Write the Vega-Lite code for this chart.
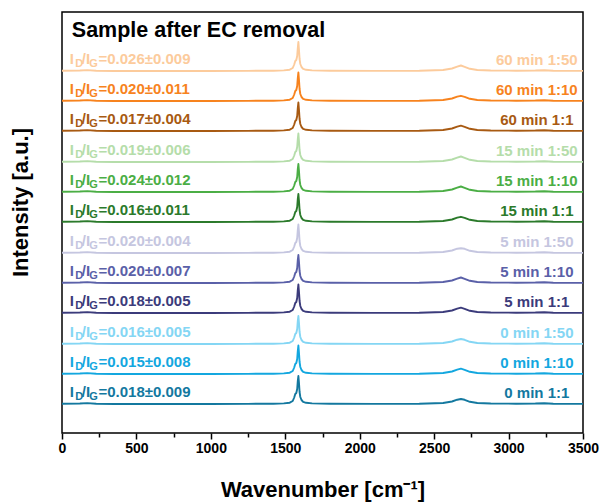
{
"$schema": "https://vega.github.io/schema/vega-lite/v6.json",
"width": 521, "height": 421,
"autosize": {"type": "none"},
"padding": {"left": 62, "top": 12, "right": 22, "bottom": 70},
"background": "white",
"config": {"view": {"stroke": "black", "strokeWidth": 1.5}, "font": "Liberation Sans"},
"datasets": {
"spec": [
{"s":"0 min 1:1","w":0,"i":29.3},{"s":"0 min 1:1","w":120,"i":29.5},{"s":"0 min 1:1","w":170,"i":29.9},{"s":"0 min 1:1","w":230,"i":29.3},{"s":"0 min 1:1","w":350,"i":29},{"s":"0 min 1:1","w":700,"i":29},{"s":"0 min 1:1","w":1000,"i":29},{"s":"0 min 1:1","w":1250,"i":29.1},{"s":"0 min 1:1","w":1350,"i":29.4},{"s":"0 min 1:1","w":1420,"i":29.3},{"s":"0 min 1:1","w":1490,"i":29.6},{"s":"0 min 1:1","w":1530,"i":30.3},{"s":"0 min 1:1","w":1550,"i":32},{"s":"0 min 1:1","w":1560,"i":35.5},{"s":"0 min 1:1","w":1567,"i":39},{"s":"0 min 1:1","w":1574,"i":40},{"s":"0 min 1:1","w":1580,"i":44},{"s":"0 min 1:1","w":1584,"i":52},{"s":"0 min 1:1","w":1588,"i":57},{"s":"0 min 1:1","w":1592,"i":50},{"s":"0 min 1:1","w":1596,"i":41},{"s":"0 min 1:1","w":1601,"i":36},{"s":"0 min 1:1","w":1609,"i":33},{"s":"0 min 1:1","w":1620,"i":31.2},{"s":"0 min 1:1","w":1640,"i":30.2},{"s":"0 min 1:1","w":1680,"i":29.6},{"s":"0 min 1:1","w":1800,"i":29.2},{"s":"0 min 1:1","w":2100,"i":29.1},{"s":"0 min 1:1","w":2400,"i":29.3},{"s":"0 min 1:1","w":2560,"i":30},{"s":"0 min 1:1","w":2620,"i":31.5},{"s":"0 min 1:1","w":2655,"i":33.3},{"s":"0 min 1:1","w":2680,"i":34},{"s":"0 min 1:1","w":2705,"i":33.2},{"s":"0 min 1:1","w":2740,"i":31.2},{"s":"0 min 1:1","w":2790,"i":30},{"s":"0 min 1:1","w":2880,"i":29.5},{"s":"0 min 1:1","w":3050,"i":29.3},{"s":"0 min 1:1","w":3180,"i":29.5},{"s":"0 min 1:1","w":3240,"i":29.8},{"s":"0 min 1:1","w":3300,"i":29.3},{"s":"0 min 1:1","w":3500,"i":29.1},
{"s":"0 min 1:10","w":0,"i":59.3},{"s":"0 min 1:10","w":120,"i":59.5},{"s":"0 min 1:10","w":170,"i":59.9},{"s":"0 min 1:10","w":230,"i":59.3},{"s":"0 min 1:10","w":350,"i":59},{"s":"0 min 1:10","w":700,"i":59},{"s":"0 min 1:10","w":1000,"i":59},{"s":"0 min 1:10","w":1250,"i":59.1},{"s":"0 min 1:10","w":1350,"i":59.4},{"s":"0 min 1:10","w":1420,"i":59.3},{"s":"0 min 1:10","w":1490,"i":59.6},{"s":"0 min 1:10","w":1530,"i":60.3},{"s":"0 min 1:10","w":1550,"i":62},{"s":"0 min 1:10","w":1560,"i":65.5},{"s":"0 min 1:10","w":1567,"i":69},{"s":"0 min 1:10","w":1574,"i":70},{"s":"0 min 1:10","w":1580,"i":74},{"s":"0 min 1:10","w":1584,"i":82},{"s":"0 min 1:10","w":1588,"i":87.5},{"s":"0 min 1:10","w":1592,"i":80},{"s":"0 min 1:10","w":1596,"i":71},{"s":"0 min 1:10","w":1601,"i":66},{"s":"0 min 1:10","w":1609,"i":63},{"s":"0 min 1:10","w":1620,"i":61.2},{"s":"0 min 1:10","w":1640,"i":60.2},{"s":"0 min 1:10","w":1680,"i":59.6},{"s":"0 min 1:10","w":1800,"i":59.2},{"s":"0 min 1:10","w":2100,"i":59.1},{"s":"0 min 1:10","w":2400,"i":59.3},{"s":"0 min 1:10","w":2560,"i":60},{"s":"0 min 1:10","w":2620,"i":61.5},{"s":"0 min 1:10","w":2655,"i":63.3},{"s":"0 min 1:10","w":2680,"i":64.3},{"s":"0 min 1:10","w":2705,"i":63.2},{"s":"0 min 1:10","w":2740,"i":61.2},{"s":"0 min 1:10","w":2790,"i":60},{"s":"0 min 1:10","w":2880,"i":59.5},{"s":"0 min 1:10","w":3050,"i":59.3},{"s":"0 min 1:10","w":3180,"i":59.5},{"s":"0 min 1:10","w":3240,"i":59.8},{"s":"0 min 1:10","w":3300,"i":59.3},{"s":"0 min 1:10","w":3500,"i":59.1},
{"s":"0 min 1:50","w":0,"i":89.3},{"s":"0 min 1:50","w":120,"i":89.5},{"s":"0 min 1:50","w":170,"i":89.9},{"s":"0 min 1:50","w":230,"i":89.3},{"s":"0 min 1:50","w":350,"i":89},{"s":"0 min 1:50","w":700,"i":89},{"s":"0 min 1:50","w":1000,"i":89},{"s":"0 min 1:50","w":1250,"i":89.1},{"s":"0 min 1:50","w":1350,"i":89.4},{"s":"0 min 1:50","w":1420,"i":89.3},{"s":"0 min 1:50","w":1490,"i":89.6},{"s":"0 min 1:50","w":1530,"i":90.3},{"s":"0 min 1:50","w":1550,"i":92},{"s":"0 min 1:50","w":1560,"i":95.5},{"s":"0 min 1:50","w":1567,"i":99},{"s":"0 min 1:50","w":1574,"i":100},{"s":"0 min 1:50","w":1580,"i":104},{"s":"0 min 1:50","w":1584,"i":112},{"s":"0 min 1:50","w":1588,"i":117},{"s":"0 min 1:50","w":1592,"i":110},{"s":"0 min 1:50","w":1596,"i":101},{"s":"0 min 1:50","w":1601,"i":96},{"s":"0 min 1:50","w":1609,"i":93},{"s":"0 min 1:50","w":1620,"i":91.2},{"s":"0 min 1:50","w":1640,"i":90.2},{"s":"0 min 1:50","w":1680,"i":89.6},{"s":"0 min 1:50","w":1800,"i":89.2},{"s":"0 min 1:50","w":2100,"i":89.1},{"s":"0 min 1:50","w":2400,"i":89.3},{"s":"0 min 1:50","w":2560,"i":90},{"s":"0 min 1:50","w":2620,"i":91.5},{"s":"0 min 1:50","w":2655,"i":93.3},{"s":"0 min 1:50","w":2680,"i":94},{"s":"0 min 1:50","w":2705,"i":93.2},{"s":"0 min 1:50","w":2740,"i":91.2},{"s":"0 min 1:50","w":2790,"i":90},{"s":"0 min 1:50","w":2880,"i":89.5},{"s":"0 min 1:50","w":3050,"i":89.3},{"s":"0 min 1:50","w":3180,"i":89.5},{"s":"0 min 1:50","w":3240,"i":89.8},{"s":"0 min 1:50","w":3300,"i":89.3},{"s":"0 min 1:50","w":3500,"i":89.1},
{"s":"5 min 1:1","w":0,"i":120.3},{"s":"5 min 1:1","w":120,"i":120.5},{"s":"5 min 1:1","w":170,"i":120.9},{"s":"5 min 1:1","w":230,"i":120.3},{"s":"5 min 1:1","w":350,"i":120},{"s":"5 min 1:1","w":700,"i":120},{"s":"5 min 1:1","w":1000,"i":120},{"s":"5 min 1:1","w":1250,"i":120.1},{"s":"5 min 1:1","w":1350,"i":120.4},{"s":"5 min 1:1","w":1420,"i":120.3},{"s":"5 min 1:1","w":1490,"i":120.6},{"s":"5 min 1:1","w":1530,"i":121.3},{"s":"5 min 1:1","w":1550,"i":123},{"s":"5 min 1:1","w":1560,"i":126.5},{"s":"5 min 1:1","w":1567,"i":130},{"s":"5 min 1:1","w":1574,"i":131},{"s":"5 min 1:1","w":1580,"i":135},{"s":"5 min 1:1","w":1584,"i":143},{"s":"5 min 1:1","w":1588,"i":148.5},{"s":"5 min 1:1","w":1592,"i":141},{"s":"5 min 1:1","w":1596,"i":132},{"s":"5 min 1:1","w":1601,"i":127},{"s":"5 min 1:1","w":1609,"i":124},{"s":"5 min 1:1","w":1620,"i":122.2},{"s":"5 min 1:1","w":1640,"i":121.2},{"s":"5 min 1:1","w":1680,"i":120.6},{"s":"5 min 1:1","w":1800,"i":120.2},{"s":"5 min 1:1","w":2100,"i":120.1},{"s":"5 min 1:1","w":2400,"i":120.3},{"s":"5 min 1:1","w":2560,"i":121},{"s":"5 min 1:1","w":2620,"i":122.5},{"s":"5 min 1:1","w":2655,"i":124.3},{"s":"5 min 1:1","w":2680,"i":125.3},{"s":"5 min 1:1","w":2705,"i":124.2},{"s":"5 min 1:1","w":2740,"i":122.2},{"s":"5 min 1:1","w":2790,"i":121},{"s":"5 min 1:1","w":2880,"i":120.5},{"s":"5 min 1:1","w":3050,"i":120.3},{"s":"5 min 1:1","w":3180,"i":120.5},{"s":"5 min 1:1","w":3240,"i":120.8},{"s":"5 min 1:1","w":3300,"i":120.3},{"s":"5 min 1:1","w":3500,"i":120.1},
{"s":"5 min 1:10","w":0,"i":150.3},{"s":"5 min 1:10","w":120,"i":150.5},{"s":"5 min 1:10","w":170,"i":150.9},{"s":"5 min 1:10","w":230,"i":150.3},{"s":"5 min 1:10","w":350,"i":150},{"s":"5 min 1:10","w":700,"i":150},{"s":"5 min 1:10","w":1000,"i":150},{"s":"5 min 1:10","w":1250,"i":150.1},{"s":"5 min 1:10","w":1350,"i":150.4},{"s":"5 min 1:10","w":1420,"i":150.3},{"s":"5 min 1:10","w":1490,"i":150.6},{"s":"5 min 1:10","w":1530,"i":151.3},{"s":"5 min 1:10","w":1550,"i":153},{"s":"5 min 1:10","w":1560,"i":156.5},{"s":"5 min 1:10","w":1567,"i":160},{"s":"5 min 1:10","w":1574,"i":161},{"s":"5 min 1:10","w":1580,"i":165},{"s":"5 min 1:10","w":1584,"i":173},{"s":"5 min 1:10","w":1588,"i":178},{"s":"5 min 1:10","w":1592,"i":171},{"s":"5 min 1:10","w":1596,"i":162},{"s":"5 min 1:10","w":1601,"i":157},{"s":"5 min 1:10","w":1609,"i":154},{"s":"5 min 1:10","w":1620,"i":152.2},{"s":"5 min 1:10","w":1640,"i":151.2},{"s":"5 min 1:10","w":1680,"i":150.6},{"s":"5 min 1:10","w":1800,"i":150.2},{"s":"5 min 1:10","w":2100,"i":150.1},{"s":"5 min 1:10","w":2400,"i":150.3},{"s":"5 min 1:10","w":2560,"i":151},{"s":"5 min 1:10","w":2620,"i":152.5},{"s":"5 min 1:10","w":2655,"i":154.3},{"s":"5 min 1:10","w":2680,"i":155.5},{"s":"5 min 1:10","w":2705,"i":154.2},{"s":"5 min 1:10","w":2740,"i":152.2},{"s":"5 min 1:10","w":2790,"i":151},{"s":"5 min 1:10","w":2880,"i":150.5},{"s":"5 min 1:10","w":3050,"i":150.3},{"s":"5 min 1:10","w":3180,"i":150.5},{"s":"5 min 1:10","w":3240,"i":150.8},{"s":"5 min 1:10","w":3300,"i":150.3},{"s":"5 min 1:10","w":3500,"i":150.1},
{"s":"5 min 1:50","w":0,"i":180.3},{"s":"5 min 1:50","w":120,"i":180.5},{"s":"5 min 1:50","w":170,"i":180.9},{"s":"5 min 1:50","w":230,"i":180.3},{"s":"5 min 1:50","w":350,"i":180},{"s":"5 min 1:50","w":700,"i":180},{"s":"5 min 1:50","w":1000,"i":180},{"s":"5 min 1:50","w":1250,"i":180.1},{"s":"5 min 1:50","w":1350,"i":180.4},{"s":"5 min 1:50","w":1420,"i":180.3},{"s":"5 min 1:50","w":1490,"i":180.6},{"s":"5 min 1:50","w":1530,"i":181.3},{"s":"5 min 1:50","w":1550,"i":183},{"s":"5 min 1:50","w":1560,"i":186.5},{"s":"5 min 1:50","w":1567,"i":190},{"s":"5 min 1:50","w":1574,"i":191},{"s":"5 min 1:50","w":1580,"i":195},{"s":"5 min 1:50","w":1584,"i":203},{"s":"5 min 1:50","w":1588,"i":208.5},{"s":"5 min 1:50","w":1592,"i":201},{"s":"5 min 1:50","w":1596,"i":192},{"s":"5 min 1:50","w":1601,"i":187},{"s":"5 min 1:50","w":1609,"i":184},{"s":"5 min 1:50","w":1620,"i":182.2},{"s":"5 min 1:50","w":1640,"i":181.2},{"s":"5 min 1:50","w":1680,"i":180.6},{"s":"5 min 1:50","w":1800,"i":180.2},{"s":"5 min 1:50","w":2100,"i":180.1},{"s":"5 min 1:50","w":2400,"i":180.3},{"s":"5 min 1:50","w":2560,"i":181},{"s":"5 min 1:50","w":2620,"i":182.5},{"s":"5 min 1:50","w":2655,"i":184.3},{"s":"5 min 1:50","w":2680,"i":184.8},{"s":"5 min 1:50","w":2705,"i":184.2},{"s":"5 min 1:50","w":2740,"i":182.2},{"s":"5 min 1:50","w":2790,"i":181},{"s":"5 min 1:50","w":2880,"i":180.5},{"s":"5 min 1:50","w":3050,"i":180.3},{"s":"5 min 1:50","w":3180,"i":180.5},{"s":"5 min 1:50","w":3240,"i":180.8},{"s":"5 min 1:50","w":3300,"i":180.3},{"s":"5 min 1:50","w":3500,"i":180.1},
{"s":"15 min 1:1","w":0,"i":211.3},{"s":"15 min 1:1","w":120,"i":211.5},{"s":"15 min 1:1","w":170,"i":211.9},{"s":"15 min 1:1","w":230,"i":211.3},{"s":"15 min 1:1","w":350,"i":211},{"s":"15 min 1:1","w":700,"i":211},{"s":"15 min 1:1","w":1000,"i":211},{"s":"15 min 1:1","w":1250,"i":211.1},{"s":"15 min 1:1","w":1350,"i":211.4},{"s":"15 min 1:1","w":1420,"i":211.3},{"s":"15 min 1:1","w":1490,"i":211.6},{"s":"15 min 1:1","w":1530,"i":212.3},{"s":"15 min 1:1","w":1550,"i":214},{"s":"15 min 1:1","w":1560,"i":217.5},{"s":"15 min 1:1","w":1567,"i":221},{"s":"15 min 1:1","w":1574,"i":222},{"s":"15 min 1:1","w":1580,"i":226},{"s":"15 min 1:1","w":1584,"i":234},{"s":"15 min 1:1","w":1588,"i":239},{"s":"15 min 1:1","w":1592,"i":232},{"s":"15 min 1:1","w":1596,"i":223},{"s":"15 min 1:1","w":1601,"i":218},{"s":"15 min 1:1","w":1609,"i":215},{"s":"15 min 1:1","w":1620,"i":213.2},{"s":"15 min 1:1","w":1640,"i":212.2},{"s":"15 min 1:1","w":1680,"i":211.6},{"s":"15 min 1:1","w":1800,"i":211.2},{"s":"15 min 1:1","w":2100,"i":211.1},{"s":"15 min 1:1","w":2400,"i":211.3},{"s":"15 min 1:1","w":2560,"i":212},{"s":"15 min 1:1","w":2620,"i":213.5},{"s":"15 min 1:1","w":2655,"i":215.3},{"s":"15 min 1:1","w":2680,"i":216.2},{"s":"15 min 1:1","w":2705,"i":215.2},{"s":"15 min 1:1","w":2740,"i":213.2},{"s":"15 min 1:1","w":2790,"i":212},{"s":"15 min 1:1","w":2880,"i":211.5},{"s":"15 min 1:1","w":3050,"i":211.3},{"s":"15 min 1:1","w":3180,"i":211.5},{"s":"15 min 1:1","w":3240,"i":211.8},{"s":"15 min 1:1","w":3300,"i":211.3},{"s":"15 min 1:1","w":3500,"i":211.1},
{"s":"15 min 1:10","w":0,"i":241.3},{"s":"15 min 1:10","w":120,"i":241.5},{"s":"15 min 1:10","w":170,"i":241.9},{"s":"15 min 1:10","w":230,"i":241.3},{"s":"15 min 1:10","w":350,"i":241},{"s":"15 min 1:10","w":700,"i":241},{"s":"15 min 1:10","w":1000,"i":241},{"s":"15 min 1:10","w":1250,"i":241.1},{"s":"15 min 1:10","w":1350,"i":241.4},{"s":"15 min 1:10","w":1420,"i":241.3},{"s":"15 min 1:10","w":1490,"i":241.6},{"s":"15 min 1:10","w":1530,"i":242.3},{"s":"15 min 1:10","w":1550,"i":244},{"s":"15 min 1:10","w":1560,"i":247.5},{"s":"15 min 1:10","w":1567,"i":251},{"s":"15 min 1:10","w":1574,"i":252},{"s":"15 min 1:10","w":1580,"i":256},{"s":"15 min 1:10","w":1584,"i":264},{"s":"15 min 1:10","w":1588,"i":269},{"s":"15 min 1:10","w":1592,"i":262},{"s":"15 min 1:10","w":1596,"i":253},{"s":"15 min 1:10","w":1601,"i":248},{"s":"15 min 1:10","w":1609,"i":245},{"s":"15 min 1:10","w":1620,"i":243.2},{"s":"15 min 1:10","w":1640,"i":242.2},{"s":"15 min 1:10","w":1680,"i":241.6},{"s":"15 min 1:10","w":1800,"i":241.2},{"s":"15 min 1:10","w":2100,"i":241.1},{"s":"15 min 1:10","w":2400,"i":241.3},{"s":"15 min 1:10","w":2560,"i":242},{"s":"15 min 1:10","w":2620,"i":243.5},{"s":"15 min 1:10","w":2655,"i":245.3},{"s":"15 min 1:10","w":2680,"i":246.5},{"s":"15 min 1:10","w":2705,"i":245.2},{"s":"15 min 1:10","w":2740,"i":243.2},{"s":"15 min 1:10","w":2790,"i":242},{"s":"15 min 1:10","w":2880,"i":241.5},{"s":"15 min 1:10","w":3050,"i":241.3},{"s":"15 min 1:10","w":3180,"i":241.5},{"s":"15 min 1:10","w":3240,"i":241.8},{"s":"15 min 1:10","w":3300,"i":241.3},{"s":"15 min 1:10","w":3500,"i":241.1},
{"s":"15 min 1:50","w":0,"i":271.3},{"s":"15 min 1:50","w":120,"i":271.5},{"s":"15 min 1:50","w":170,"i":271.9},{"s":"15 min 1:50","w":230,"i":271.3},{"s":"15 min 1:50","w":350,"i":271},{"s":"15 min 1:50","w":700,"i":271},{"s":"15 min 1:50","w":1000,"i":271},{"s":"15 min 1:50","w":1250,"i":271.1},{"s":"15 min 1:50","w":1350,"i":271.4},{"s":"15 min 1:50","w":1420,"i":271.3},{"s":"15 min 1:50","w":1490,"i":271.6},{"s":"15 min 1:50","w":1530,"i":272.3},{"s":"15 min 1:50","w":1550,"i":274},{"s":"15 min 1:50","w":1560,"i":277.5},{"s":"15 min 1:50","w":1567,"i":281},{"s":"15 min 1:50","w":1574,"i":282},{"s":"15 min 1:50","w":1580,"i":286},{"s":"15 min 1:50","w":1584,"i":294},{"s":"15 min 1:50","w":1588,"i":299.5},{"s":"15 min 1:50","w":1592,"i":292},{"s":"15 min 1:50","w":1596,"i":283},{"s":"15 min 1:50","w":1601,"i":278},{"s":"15 min 1:50","w":1609,"i":275},{"s":"15 min 1:50","w":1620,"i":273.2},{"s":"15 min 1:50","w":1640,"i":272.2},{"s":"15 min 1:50","w":1680,"i":271.6},{"s":"15 min 1:50","w":1800,"i":271.2},{"s":"15 min 1:50","w":2100,"i":271.1},{"s":"15 min 1:50","w":2400,"i":271.3},{"s":"15 min 1:50","w":2560,"i":272},{"s":"15 min 1:50","w":2620,"i":273.5},{"s":"15 min 1:50","w":2655,"i":275.3},{"s":"15 min 1:50","w":2680,"i":276.5},{"s":"15 min 1:50","w":2705,"i":275.2},{"s":"15 min 1:50","w":2740,"i":273.2},{"s":"15 min 1:50","w":2790,"i":272},{"s":"15 min 1:50","w":2880,"i":271.5},{"s":"15 min 1:50","w":3050,"i":271.3},{"s":"15 min 1:50","w":3180,"i":271.5},{"s":"15 min 1:50","w":3240,"i":271.8},{"s":"15 min 1:50","w":3300,"i":271.3},{"s":"15 min 1:50","w":3500,"i":271.1},
{"s":"60 min 1:1","w":0,"i":302.3},{"s":"60 min 1:1","w":120,"i":302.5},{"s":"60 min 1:1","w":170,"i":302.9},{"s":"60 min 1:1","w":230,"i":302.3},{"s":"60 min 1:1","w":350,"i":302},{"s":"60 min 1:1","w":700,"i":302},{"s":"60 min 1:1","w":1000,"i":302},{"s":"60 min 1:1","w":1250,"i":302.1},{"s":"60 min 1:1","w":1350,"i":302.4},{"s":"60 min 1:1","w":1420,"i":302.3},{"s":"60 min 1:1","w":1490,"i":302.6},{"s":"60 min 1:1","w":1530,"i":303.3},{"s":"60 min 1:1","w":1550,"i":305},{"s":"60 min 1:1","w":1560,"i":308.5},{"s":"60 min 1:1","w":1567,"i":312},{"s":"60 min 1:1","w":1574,"i":313},{"s":"60 min 1:1","w":1580,"i":317},{"s":"60 min 1:1","w":1584,"i":325},{"s":"60 min 1:1","w":1588,"i":330.5},{"s":"60 min 1:1","w":1592,"i":323},{"s":"60 min 1:1","w":1596,"i":314},{"s":"60 min 1:1","w":1601,"i":309},{"s":"60 min 1:1","w":1609,"i":306},{"s":"60 min 1:1","w":1620,"i":304.2},{"s":"60 min 1:1","w":1640,"i":303.2},{"s":"60 min 1:1","w":1680,"i":302.6},{"s":"60 min 1:1","w":1800,"i":302.2},{"s":"60 min 1:1","w":2100,"i":302.1},{"s":"60 min 1:1","w":2400,"i":302.3},{"s":"60 min 1:1","w":2560,"i":303},{"s":"60 min 1:1","w":2620,"i":304.5},{"s":"60 min 1:1","w":2655,"i":306.3},{"s":"60 min 1:1","w":2680,"i":307.3},{"s":"60 min 1:1","w":2705,"i":306.2},{"s":"60 min 1:1","w":2740,"i":304.2},{"s":"60 min 1:1","w":2790,"i":303},{"s":"60 min 1:1","w":2880,"i":302.5},{"s":"60 min 1:1","w":3050,"i":302.3},{"s":"60 min 1:1","w":3180,"i":302.5},{"s":"60 min 1:1","w":3240,"i":302.8},{"s":"60 min 1:1","w":3300,"i":302.3},{"s":"60 min 1:1","w":3500,"i":302.1},
{"s":"60 min 1:10","w":0,"i":332.3},{"s":"60 min 1:10","w":120,"i":332.5},{"s":"60 min 1:10","w":170,"i":332.9},{"s":"60 min 1:10","w":230,"i":332.3},{"s":"60 min 1:10","w":350,"i":332},{"s":"60 min 1:10","w":700,"i":332},{"s":"60 min 1:10","w":1000,"i":332},{"s":"60 min 1:10","w":1250,"i":332.1},{"s":"60 min 1:10","w":1350,"i":332.4},{"s":"60 min 1:10","w":1420,"i":332.3},{"s":"60 min 1:10","w":1490,"i":332.6},{"s":"60 min 1:10","w":1530,"i":333.3},{"s":"60 min 1:10","w":1550,"i":335},{"s":"60 min 1:10","w":1560,"i":338.5},{"s":"60 min 1:10","w":1567,"i":342},{"s":"60 min 1:10","w":1574,"i":343},{"s":"60 min 1:10","w":1580,"i":347},{"s":"60 min 1:10","w":1584,"i":355},{"s":"60 min 1:10","w":1588,"i":360.5},{"s":"60 min 1:10","w":1592,"i":353},{"s":"60 min 1:10","w":1596,"i":344},{"s":"60 min 1:10","w":1601,"i":339},{"s":"60 min 1:10","w":1609,"i":336},{"s":"60 min 1:10","w":1620,"i":334.2},{"s":"60 min 1:10","w":1640,"i":333.2},{"s":"60 min 1:10","w":1680,"i":332.6},{"s":"60 min 1:10","w":1800,"i":332.2},{"s":"60 min 1:10","w":2100,"i":332.1},{"s":"60 min 1:10","w":2400,"i":332.3},{"s":"60 min 1:10","w":2560,"i":333},{"s":"60 min 1:10","w":2620,"i":334.5},{"s":"60 min 1:10","w":2655,"i":336.3},{"s":"60 min 1:10","w":2680,"i":337.2},{"s":"60 min 1:10","w":2705,"i":336.2},{"s":"60 min 1:10","w":2740,"i":334.2},{"s":"60 min 1:10","w":2790,"i":333},{"s":"60 min 1:10","w":2880,"i":332.5},{"s":"60 min 1:10","w":3050,"i":332.3},{"s":"60 min 1:10","w":3180,"i":332.5},{"s":"60 min 1:10","w":3240,"i":332.8},{"s":"60 min 1:10","w":3300,"i":332.3},{"s":"60 min 1:10","w":3500,"i":332.1},
{"s":"60 min 1:50","w":0,"i":362.3},{"s":"60 min 1:50","w":120,"i":362.5},{"s":"60 min 1:50","w":170,"i":362.9},{"s":"60 min 1:50","w":230,"i":362.3},{"s":"60 min 1:50","w":350,"i":362},{"s":"60 min 1:50","w":700,"i":362},{"s":"60 min 1:50","w":1000,"i":362},{"s":"60 min 1:50","w":1250,"i":362.1},{"s":"60 min 1:50","w":1350,"i":362.4},{"s":"60 min 1:50","w":1420,"i":362.3},{"s":"60 min 1:50","w":1490,"i":362.6},{"s":"60 min 1:50","w":1530,"i":363.3},{"s":"60 min 1:50","w":1550,"i":365},{"s":"60 min 1:50","w":1560,"i":368.5},{"s":"60 min 1:50","w":1567,"i":372},{"s":"60 min 1:50","w":1574,"i":373},{"s":"60 min 1:50","w":1580,"i":377},{"s":"60 min 1:50","w":1584,"i":385},{"s":"60 min 1:50","w":1588,"i":391},{"s":"60 min 1:50","w":1592,"i":383},{"s":"60 min 1:50","w":1596,"i":374},{"s":"60 min 1:50","w":1601,"i":369},{"s":"60 min 1:50","w":1609,"i":366},{"s":"60 min 1:50","w":1620,"i":364.2},{"s":"60 min 1:50","w":1640,"i":363.2},{"s":"60 min 1:50","w":1680,"i":362.6},{"s":"60 min 1:50","w":1800,"i":362.2},{"s":"60 min 1:50","w":2100,"i":362.1},{"s":"60 min 1:50","w":2400,"i":362.3},{"s":"60 min 1:50","w":2560,"i":363},{"s":"60 min 1:50","w":2620,"i":364.5},{"s":"60 min 1:50","w":2655,"i":366.3},{"s":"60 min 1:50","w":2680,"i":367.5},{"s":"60 min 1:50","w":2705,"i":366.2},{"s":"60 min 1:50","w":2740,"i":364.2},{"s":"60 min 1:50","w":2790,"i":363},{"s":"60 min 1:50","w":2880,"i":362.5},{"s":"60 min 1:50","w":3050,"i":362.3},{"s":"60 min 1:50","w":3180,"i":362.5},{"s":"60 min 1:50","w":3240,"i":362.8},{"s":"60 min 1:50","w":3300,"i":362.3},{"s":"60 min 1:50","w":3500,"i":362.1}
],
"lab": [
{"s":"0 min 1:1","r":"0.018±0.009","b":29},
{"s":"0 min 1:10","r":"0.015±0.008","b":59},
{"s":"0 min 1:50","r":"0.016±0.005","b":89},
{"s":"5 min 1:1","r":"0.018±0.005","b":120},
{"s":"5 min 1:10","r":"0.020±0.007","b":150},
{"s":"5 min 1:50","r":"0.020±0.004","b":180},
{"s":"15 min 1:1","r":"0.016±0.011","b":211},
{"s":"15 min 1:10","r":"0.024±0.012","b":241},
{"s":"15 min 1:50","r":"0.019±0.006","b":271},
{"s":"60 min 1:1","r":"0.017±0.004","b":302},
{"s":"60 min 1:10","r":"0.020±0.011","b":332},
{"s":"60 min 1:50","r":"0.026±0.009","b":362}
]
},
"resolve": {"axis": {"x": "independent", "y": "independent"}},
"layer": [
{
"data": {"name": "spec"},
"mark": {"type": "line", "strokeWidth": 1.9, "strokeJoin": "round"},
"encoding": {
"x": {"field": "w", "type": "quantitative", "scale": {"domain": [0, 3500], "nice": false},
"axis": {"orient": "bottom", "values": [0,500,1000,1500,2000,2500,3000,3500], "format": "d", "grid": false, "domain": false,
"tickColor": "black", "tickWidth": 1.5, "tickSize": 6, "labelFontSize": 14, "labelFontWeight": "bold", "labelColor": "black",
"labelPadding": 2, "labelFlush": false, "labelOverlap": false, "labelFont": "Liberation Sans",
"title": "Wavenumber [cm⁻¹]", "titleFontSize": 22, "titleFontWeight": "bold", "titleColor": "black", "titlePadding": 24, "titleFont": "Liberation Sans"}},
"y": {"field": "i", "type": "quantitative", "scale": {"domain": [0, 421], "nice": false, "zero": false},
"axis": {"orient": "left", "ticks": false, "labels": false, "domain": false, "grid": false, "title": "Intensity [a.u.]",
"titleFontSize": 22, "titleFontWeight": "bold", "titleColor": "black", "titleFont": "Liberation Sans",
"titleX": -30, "titleY": 190, "titleAngle": -90, "titleAlign": "center", "titleBaseline": "bottom"}},
"color": {"field": "s", "type": "nominal", "legend": null,
"scale": {"domain": ["0 min 1:1","0 min 1:10","0 min 1:50","5 min 1:1","5 min 1:10","5 min 1:50","15 min 1:1","15 min 1:10","15 min 1:50","60 min 1:1","60 min 1:10","60 min 1:50"],
"range": ["#13789f","#13a7df","#84d6f4","#3b3b7b","#5a60a8","#c5c6e0","#2b7a2b","#4bae45","#b5ddaa","#a85a12","#f7831e","#fccb9c"]}}
}
},
{
"data": {"name": "lab"},
"mark": {"type": "text", "align": "center", "baseline": "alphabetic", "fontSize": 15, "fontWeight": "bold", "dy": -6.5},
"encoding": {
"x": {"datum": 3190, "type": "quantitative", "axis": {"orient": "bottom", "values": [250,750,1250,1750,2250,2750,3250], "labels": false, "grid": false, "domain": false, "tickColor": "black", "tickWidth": 1.5, "tickSize": 4, "title": null}},
"y": {"field": "b", "type": "quantitative", "axis": null},
"text": {"field": "s"},
"color": {"field": "s", "type": "nominal", "legend": null}
}
},
{
"data": {"name": "lab"},
"mark": {"type": "text", "align": "left", "baseline": "alphabetic", "fontSize": 15, "fontWeight": "bold", "dy": -7.3, "text": "I"},
"encoding": {
"x": {"datum": 52, "type": "quantitative", "axis": null},
"y": {"field": "b", "type": "quantitative", "axis": null},
"color": {"field": "s", "type": "nominal", "legend": null}
}
},
{
"data": {"name": "lab"},
"mark": {"type": "text", "align": "left", "baseline": "alphabetic", "fontSize": 11, "fontWeight": "bold", "dy": -3.9, "dx": 5.5, "text": "D"},
"encoding": {
"x": {"datum": 52, "type": "quantitative", "axis": null},
"y": {"field": "b", "type": "quantitative", "axis": null},
"color": {"field": "s", "type": "nominal", "legend": null}
}
},
{
"data": {"name": "lab"},
"mark": {"type": "text", "align": "left", "baseline": "alphabetic", "fontSize": 15, "fontWeight": "bold", "dy": -7.3, "dx": 12, "text": "/I"},
"encoding": {
"x": {"datum": 52, "type": "quantitative", "axis": null},
"y": {"field": "b", "type": "quantitative", "axis": null},
"color": {"field": "s", "type": "nominal", "legend": null}
}
},
{
"data": {"name": "lab"},
"mark": {"type": "text", "align": "left", "baseline": "alphabetic", "fontSize": 11, "fontWeight": "bold", "dy": -3.9, "dx": 19.5, "text": "G"},
"encoding": {
"x": {"datum": 52, "type": "quantitative", "axis": null},
"y": {"field": "b", "type": "quantitative", "axis": null},
"color": {"field": "s", "type": "nominal", "legend": null}
}
},
{
"data": {"name": "lab"},
"mark": {"type": "text", "align": "left", "baseline": "alphabetic", "fontSize": 15, "fontWeight": "bold", "dy": -7.3, "dx": 28.7, "text": "="},
"encoding": {
"x": {"datum": 52, "type": "quantitative", "axis": null},
"y": {"field": "b", "type": "quantitative", "axis": null},
"color": {"field": "s", "type": "nominal", "legend": null}
}
},
{
"data": {"name": "lab"},
"mark": {"type": "text", "align": "left", "baseline": "alphabetic", "fontSize": 15, "fontWeight": "bold", "dy": -7.3, "dx": 37.5},
"encoding": {
"x": {"datum": 52, "type": "quantitative", "axis": null},
"y": {"field": "b", "type": "quantitative", "axis": null},
"text": {"field": "r"},
"color": {"field": "s", "type": "nominal", "legend": null}
}
},
{
"data": {"values": [{"t": "Sample after EC removal"}]},
"mark": {"type": "text", "align": "left", "baseline": "alphabetic", "fontSize": 21.5, "fontWeight": "bold", "color": "black"},
"encoding": {
"x": {"datum": 66, "type": "quantitative", "axis": null},
"y": {"datum": 396.3, "type": "quantitative", "axis": null},
"text": {"field": "t"}
}
}
]
}
